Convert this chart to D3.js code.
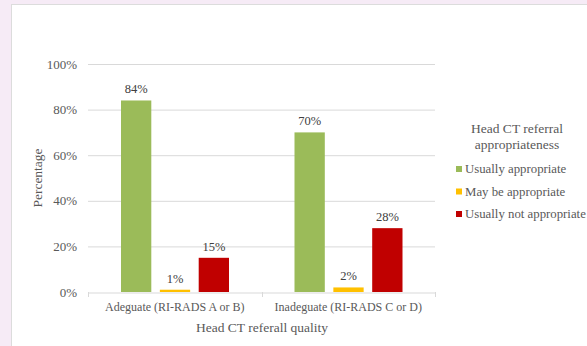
<!DOCTYPE html>
<html><head><meta charset="utf-8">
<script src="https://cdn.jsdelivr.net/npm/d3@7"></script>
<style>
html,body{margin:0;padding:0;background:#f6ebf6;}
svg{display:block;}
</style></head>
<body><svg id="c" width="587" height="346"></svg>
<script>
const categories = ["Adeguate (RI-RADS A or B)", "Inadeguate (RI-RADS C or D)"];
const seriesNames = ["Usually appropriate", "May be appropriate", "Usually not appropriate"];
const seriesColors = ["#9bbb59", "#ffc000", "#c00000"];
const usuallyAppropriate = [84, 70];
const mayBeAppropriate = [1, 2];
const usuallyNotAppropriate = [15, 28];
const yTicks = [0, 20, 40, 60, 80, 100];
const seriesValues = [usuallyAppropriate, mayBeAppropriate, usuallyNotAppropriate];

const FONT = "'Liberation Serif', serif";
const TXT = "#595959";
const svg = d3.select("#c");

// panel
svg.append("rect").attr("x", 11.5).attr("y", 4.5).attr("width", 600).attr("height", 400)
  .attr("fill", "#fff").attr("stroke", "#dcdcdc").attr("stroke-width", 1);

const plot = {l: 88, r: 435, t: 64, b: 292};
const x0 = d3.scaleBand().domain(categories).range([plot.l, plot.r]).padding(0);
const x1 = d3.scaleBand().domain(seriesNames).range([33, 141]).paddingInner(0.22).paddingOuter(0);
const y = d3.scaleLinear().domain([0, 100]).range([plot.b, plot.t]);

// grid
svg.append("g").selectAll("line").data(yTicks.filter(d => d > 0)).join("line")
  .attr("x1", plot.l).attr("x2", plot.r)
  .attr("y1", d => y(d) + 0.5).attr("y2", d => y(d) + 0.5)
  .attr("stroke", "#d9d9d9").attr("stroke-width", 1);

// y tick labels
svg.append("g").selectAll("text").data(yTicks).join("text")
  .attr("x", 77).attr("y", d => y(d)).attr("dy", "0.35em")
  .attr("text-anchor", "end").attr("font-family", FONT).attr("font-size", 13)
  .attr("fill", TXT).text(d => d + "%");

// x axis
const xAxis = svg.append("g").attr("transform", `translate(0,${plot.b + 0.5})`)
  .call(d3.axisBottom(x0).tickSize(0).tickFormat(""));
xAxis.select(".domain").attr("stroke", "#d9d9d9");
xAxis.selectAll(".tick").remove();
const boundaries = [plot.l, x0(categories[1]), plot.r];
svg.append("g").selectAll("line").data(boundaries).join("line")
  .attr("x1", d => Math.round(d) + 0.5).attr("x2", d => Math.round(d) + 0.5)
  .attr("y1", plot.b).attr("y2", plot.b + 5)
  .attr("stroke", "#d9d9d9");

svg.append("g").selectAll("text").data(categories).join("text")
  .attr("x", d => x0(d) + x0.bandwidth() / 2).attr("y", 307).attr("dy", "0.35em")
  .attr("text-anchor", "middle").attr("font-family", FONT).attr("font-size", 12)
  .attr("fill", TXT).text(d => d);

// bars
const groups = svg.append("g").selectAll("g").data(categories).join("g")
  .attr("transform", d => `translate(${x0(d)},0)`);
groups.each(function(cat, ci) {
  const g = d3.select(this);
  seriesNames.forEach((s, si) => {
    const v = seriesValues[si][ci];
    g.append("rect").attr("x", x1(s)).attr("width", x1.bandwidth())
      .attr("y", y(v)).attr("height", plot.b - y(v)).attr("fill", seriesColors[si]);
    g.append("text").attr("x", x1(s) + x1.bandwidth() / 2).attr("y", y(v) - 7)
      .attr("text-anchor", "middle").attr("font-family", FONT).attr("font-size", 12.5)
      .attr("fill", "#404040").text(v + "%");
  });
});

// axis titles
svg.append("text").attr("transform", `translate(37,${(plot.t + plot.b) / 2}) rotate(-90)`)
  .attr("dy", "0.35em").attr("text-anchor", "middle").attr("font-family", FONT)
  .attr("font-size", 13.5).attr("fill", TXT).text("Percentage");
svg.append("text").attr("x", 262).attr("y", 327).attr("dy", "0.35em")
  .attr("text-anchor", "middle").attr("font-family", FONT)
  .attr("font-size", 13.5).attr("fill", TXT).text("Head CT referall quality");

// legend
const legTitle = ["Head CT referral", "appropriateness"];
svg.append("g").selectAll("text").data(legTitle).join("text")
  .attr("x", 517).attr("y", (d, i) => 128 + i * 16).attr("dy", "0.35em")
  .attr("text-anchor", "middle").attr("font-family", FONT).attr("font-size", 13.5)
  .attr("fill", TXT).text(d => d);
const leg = svg.append("g").selectAll("g").data(seriesNames).join("g")
  .attr("transform", (d, i) => `translate(456,${169 + i * 22.5})`);
leg.append("rect").attr("x", 0).attr("y", -3).attr("width", 6).attr("height", 6)
  .attr("fill", (d, i) => seriesColors[i]);
leg.append("text").attr("x", 9).attr("y", 0).attr("dy", "0.35em")
  .attr("font-family", FONT).attr("font-size", 12.8).attr("fill", TXT).text(d => d);
</script></body></html>
